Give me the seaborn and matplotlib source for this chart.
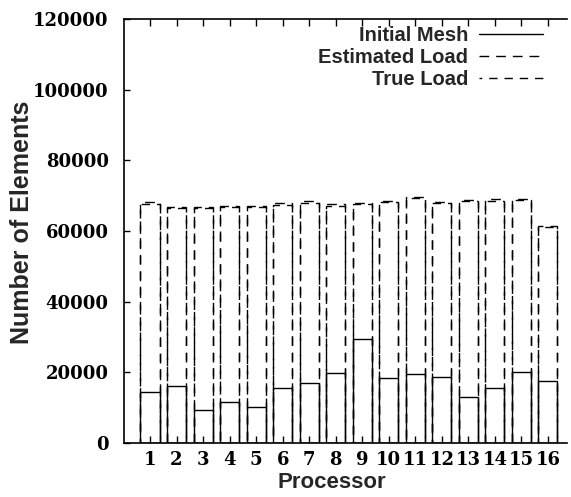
import matplotlib
matplotlib.use("Agg")
import matplotlib.pyplot as plt
from matplotlib.lines import Line2D
import seaborn as sns
import pandas as pd

# Element counts per processor
processors = [str(i) for i in range(1, 17)]
initial_mesh = [14300, 16200, 9300, 11500, 10300, 15500, 16900, 19900,
                29300, 18400, 19400, 18800, 12900, 15500, 20200, 17600]
estimated_load = [68300, 66900, 66700, 67000, 67000, 67800, 68500, 67500,
                  68000, 68600, 69600, 68300, 68800, 69000, 69000, 61500]
true_load = [67600, 66600, 66500, 66700, 66700, 67400, 68000, 67200,
             67600, 68200, 69200, 67900, 68400, 68600, 68700, 61000]

series = [
    ("Initial Mesh", initial_mesh, "-"),
    ("Estimated Load", estimated_load, (0, (7, 5))),
    ("True Load", true_load, (4, (6, 5))),
]

sns.set_theme(style="ticks")
plt.rcParams["font.family"] = ["DejaVu Sans"]

fig = plt.figure(figsize=(5.71, 4.97), dpi=100)
W, H = 571, 497
ax = fig.add_axes([124 / W, 1 - 443 / H, (567 - 124) / W, (443 - 19) / H])

for name, vals, ls in series:
    df = pd.DataFrame({"Processor": processors, "Elements": vals})
    n_before = len(ax.patches)
    sns.barplot(data=df, x="Processor", y="Elements", order=processors,
                fill=False, color="black", width=0.72, errorbar=None,
                linewidth=1.0, ax=ax)
    for p in ax.patches[n_before:]:
        p.set_linestyle(ls)
        p.set_edgecolor("black")

ax.set_xlim(-0.98, 15.72)
ax.set_ylim(0, 120000)
ax.set_yticks(range(0, 120001, 20000))

tick_font = dict(family="DejaVu Serif", weight="bold", size=13)
ax.set_xticks(range(16))
ax.set_xticklabels(processors, **tick_font)
ax.set_yticklabels([str(v) for v in range(0, 120001, 20000)], **tick_font)

ax.tick_params(axis="x", direction="in", length=5, width=1, top=True,
               bottom=True, pad=5.5, colors="black")
ax.tick_params(axis="y", direction="in", length=4.5, width=1, left=True,
               pad=11, colors="black")

for side in ["left", "bottom", "top"]:
    ax.spines[side].set_color("black")
    ax.spines[side].set_linewidth(1.2)
ax.spines["right"].set_visible(False)

ax.set_xlabel("Processor", family="Liberation Sans", weight="bold", size=16)
ax.set_ylabel("Number of Elements", family="Liberation Sans", weight="bold",
              size=18)
ax.xaxis.set_label_coords(0.468, -0.0685)
ax.yaxis.set_label_coords(-0.203, 0.521)

handles = [Line2D([], [], color="black", lw=1.0, linestyle=ls)
           for _, _, ls in series]
leg = ax.legend(handles, [s[0] for s in series], loc="upper right",
                bbox_to_anchor=(551 / W, 1 - 18 / H),
                bbox_transform=fig.transFigure, frameon=False,
                markerfirst=False, handlelength=3.2, handletextpad=0.5,
                labelspacing=0.15, borderaxespad=0,
                prop=dict(family="Liberation Sans", weight="bold", size=14.5))

fig.savefig("out.png", dpi=100, facecolor="white")
